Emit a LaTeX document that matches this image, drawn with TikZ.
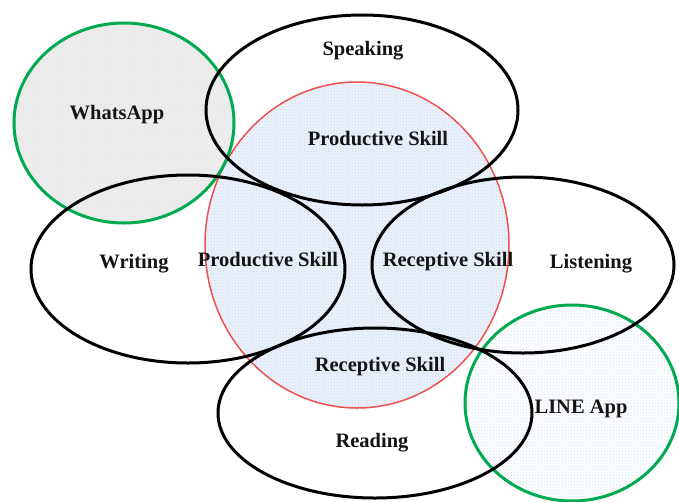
\documentclass[tikz,border=0pt]{standalone}
\usepackage{fontspec}
\setmainfont{Liberation Serif}
\usetikzlibrary{patterns}
\definecolor{grn}{RGB}{0,170,80}
\definecolor{redl}{RGB}{240,80,80}
\definecolor{lblue}{RGB}{236,242,250}
\definecolor{dotblue}{RGB}{130,170,215}
\definecolor{wgray}{RGB}{236,236,236}
\begin{document}
\begin{tikzpicture}[x=1pt,y=-1pt,
  lbl/.style={font=\fontsize{20.5}{24}\selectfont\bfseries, text=black!92, inner sep=0pt},
  skillring/.style={draw=black, line width=3pt},
  appring/.style={draw=grn, line width=3pt}]
\useasboundingbox (0,0) rectangle (679,501);
\fill[white] (0,0) rectangle (679,501);
% central circle
\fill[lblue] (357,245) ellipse [x radius=152pt, y radius=163pt];
\fill[pattern=crosshatch dots, pattern color=dotblue!45] (357,245) ellipse [x radius=152pt, y radius=163pt];
\draw[redl, line width=1.5pt] (357,245) ellipse [x radius=152pt, y radius=163pt];
% WhatsApp
\fill[wgray] (124,123) ellipse [x radius=110pt, y radius=100pt];
\fill[pattern=dots, pattern color=gray!20] (124,123) ellipse [x radius=110pt, y radius=100pt];
\draw[appring] (124,123) ellipse [x radius=110pt, y radius=100pt];
% LINE App
\fill[pattern=crosshatch dots, pattern color=dotblue!35] (572,403) ellipse [x radius=107pt, y radius=98pt];
\draw[appring] (572,403) ellipse [x radius=107pt, y radius=98pt];
% skill ellipses
\draw[skillring] (362,110) ellipse [x radius=156pt, y radius=95pt];
\draw[skillring] (188,269) ellipse [x radius=157pt, y radius=94pt];
\draw[skillring] (523,265) ellipse [x radius=151pt, y radius=88pt];
\draw[skillring] (375,413) ellipse [x radius=157pt, y radius=85pt];
% labels
\node[lbl] (speaking) at (363,51) {Speaking};
\node[lbl] (prodtop) at (378,139) {Productive Skill};
\node[lbl] (whatsapp) at (117,115) {WhatsApp};
\node[lbl] (writing) at (134,264) {Writing};
\node[lbl] (prodleft) at (268,260) {Productive Skill};
\node[lbl] (recright) at (448,262) {Receptive Skill};
\node[lbl] (listening) at (591,264) {Listening};
\node[lbl] (recbot) at (380,367) {Receptive Skill};
\node[lbl] (line) at (581,409) {LINE App};
\node[lbl] (reading) at (372,443) {Reading};
\end{tikzpicture}
\end{document}
